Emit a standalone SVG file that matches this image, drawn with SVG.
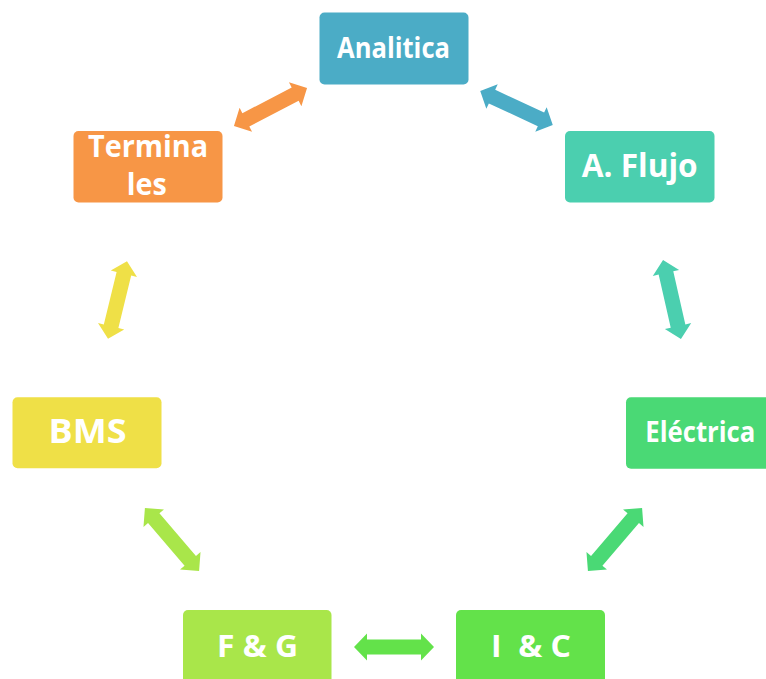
<svg xmlns="http://www.w3.org/2000/svg" xmlns:xlink="http://www.w3.org/1999/xlink" width="766" height="679" viewBox="0 0 766 679">
<defs>
<style>
.box{stroke:none}
.lbl{font-family:"Open Sans","Noto Sans","Liberation Sans",sans-serif;font-weight:bold;fill:#FFFFFF;text-anchor:middle}
</style>
<path id="dbl" d="M-40,0 L-27,-13.5 L-27,-7.5 L27,-7.5 L27,-13.5 L40,0 L27,13.5 L27,7.5 L-27,7.5 L-27,13.5 Z"/>
</defs>
<rect width="766" height="679" fill="#FFFFFF"/>
<g id="connectors">
<use xlink:href="#dbl" href="#dbl" fill="#F79646" transform="translate(270.5,107) rotate(-27.5) scale(1.03,1)"/>
<use xlink:href="#dbl" href="#dbl" fill="#4BACC6" transform="translate(516.5,108) rotate(25) scale(1.0,1)"/>
<use xlink:href="#dbl" href="#dbl" fill="#4BCFAF" transform="translate(672,299.5) rotate(77.2) scale(1.01,1)"/>
<use xlink:href="#dbl" href="#dbl" fill="#EFE047" transform="translate(117.5,300) rotate(103.7) scale(1.0,1)"/>
<use xlink:href="#dbl" href="#dbl" fill="#4AD975" transform="translate(615,539.5) rotate(130.6) scale(1.04,1)"/>
<use xlink:href="#dbl" href="#dbl" fill="#A9E64A" transform="translate(172,539.5) rotate(49.4) scale(1.04,1)"/>
<use xlink:href="#dbl" href="#dbl" fill="#63E24A" transform="translate(394,647)"/>
</g>
<g id="analitica">
<rect class="box" x="319.5" y="12.5" width="149" height="72" rx="5" fill="#4BACC6"/>
<text class="lbl" x="393.5" y="58.3" font-size="28" textLength="113" lengthAdjust="spacingAndGlyphs">Analitica</text>
</g>
<g id="terminales">
<rect class="box" x="73.5" y="131" width="149" height="71.5" rx="5" fill="#F79646"/>
<text class="lbl" x="148" y="156.7" font-size="31" textLength="120" lengthAdjust="spacingAndGlyphs">Termina</text>
<text class="lbl" x="146.7" y="195" font-size="31" textLength="40" lengthAdjust="spacingAndGlyphs">les</text>
</g>
<g id="aflujo">
<rect class="box" x="565" y="131" width="149.5" height="71.5" rx="5" fill="#4BCFAF"/>
<text class="lbl" x="639.7" y="177.3" font-size="32" textLength="116" lengthAdjust="spacingAndGlyphs">A. Flujo</text>
</g>
<g id="bms">
<rect class="box" x="12.5" y="397.3" width="149" height="71" rx="5" fill="#EFE047"/>
<text class="lbl" x="87.5" y="443.3" font-size="33.5" textLength="78" lengthAdjust="spacingAndGlyphs">BMS</text>
</g>
<g id="electrica">
<rect class="box" x="626" y="397.3" width="149" height="71.5" rx="5" fill="#4AD975"/>
<text class="lbl" x="700.3" y="441.7" font-size="28" textLength="110" lengthAdjust="spacingAndGlyphs">Eléctrica</text>
</g>
<g id="fg">
<rect class="box" x="183" y="610" width="148.5" height="80" rx="5" fill="#A9E64A"/>
<text class="lbl" x="257.5" y="657" font-size="31" textLength="81" lengthAdjust="spacingAndGlyphs">F &amp; G</text>
</g>
<g id="ic">
<rect class="box" x="456" y="610" width="149" height="80" rx="5" fill="#63E24A"/>
<text class="lbl" x="531" y="657" font-size="31" textLength="80" lengthAdjust="spacingAndGlyphs" xml:space="preserve">I  &amp; C</text>
</g>
</svg>
